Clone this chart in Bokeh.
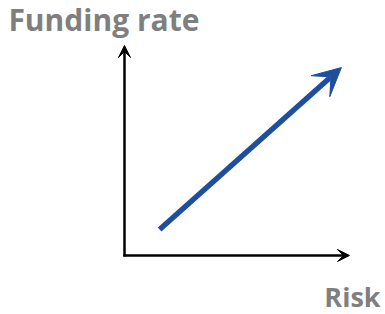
from bokeh.plotting import figure
from bokeh.models import Arrow, VeeHead, Label, Range1d
from bokeh.embed import file_html
from bokeh.resources import INLINE

# Conceptual axes (normalised units)
axis_start = [0.0, 0.0]
x_axis_end = [1.0, 0.0]
y_axis_end = [0.0, 1.0]

# Trend: risk vs funding rate
trend_risk = [0.156, 0.964]
trend_funding = [0.124, 0.895]

x_label = "Risk"
y_label = "Funding rate"

p = figure(width=385, height=314, output_backend="svg", toolbar_location=None,
           x_range=Range1d(-0.5511, 1.16), y_range=Range1d(-0.281, 1.2143),
           min_border=0)
p.axis.visible = False
p.grid.visible = False
p.outline_line_color = None
p.background_fill_color = "white"
p.border_fill_color = "white"

# axes arrows
p.add_layout(Arrow(x_start=axis_start[0] - 0.005, y_start=axis_start[1],
                   x_end=x_axis_end[0], y_end=x_axis_end[1],
                   line_width=2.5, line_color="black",
                   end=VeeHead(size=12, fill_color="black", line_color="black", line_width=1)))
p.add_layout(Arrow(x_start=axis_start[0], y_start=axis_start[1] - 0.005,
                   x_end=y_axis_end[0], y_end=y_axis_end[1],
                   line_width=2.5, line_color="black",
                   end=VeeHead(size=12, fill_color="black", line_color="black", line_width=1)))

# trend arrow
p.add_layout(Arrow(x_start=trend_risk[0], y_start=trend_funding[0],
                   x_end=trend_risk[1], y_end=trend_funding[1],
                   line_width=5.5, line_color="#1f4e9c",
                   end=VeeHead(size=28, fill_color="#1f4e9c", line_color="#1f4e9c", line_width=1)))

p.add_layout(Label(x=-0.516, y=1.125, text=y_label, text_font="Open Sans",
                   text_font_style="bold", text_font_size="30px",
                   text_color="#7f7f7f", text_align="left", text_baseline="alphabetic"))
p.add_layout(Label(x=1.138, y=-0.195, text=x_label, text_font="Open Sans",
                   text_font_style="bold", text_font_size="27px",
                   text_color="#7f7f7f", text_align="right", text_baseline="alphabetic"))

open("out.html", "w").write(file_html(p, INLINE))
